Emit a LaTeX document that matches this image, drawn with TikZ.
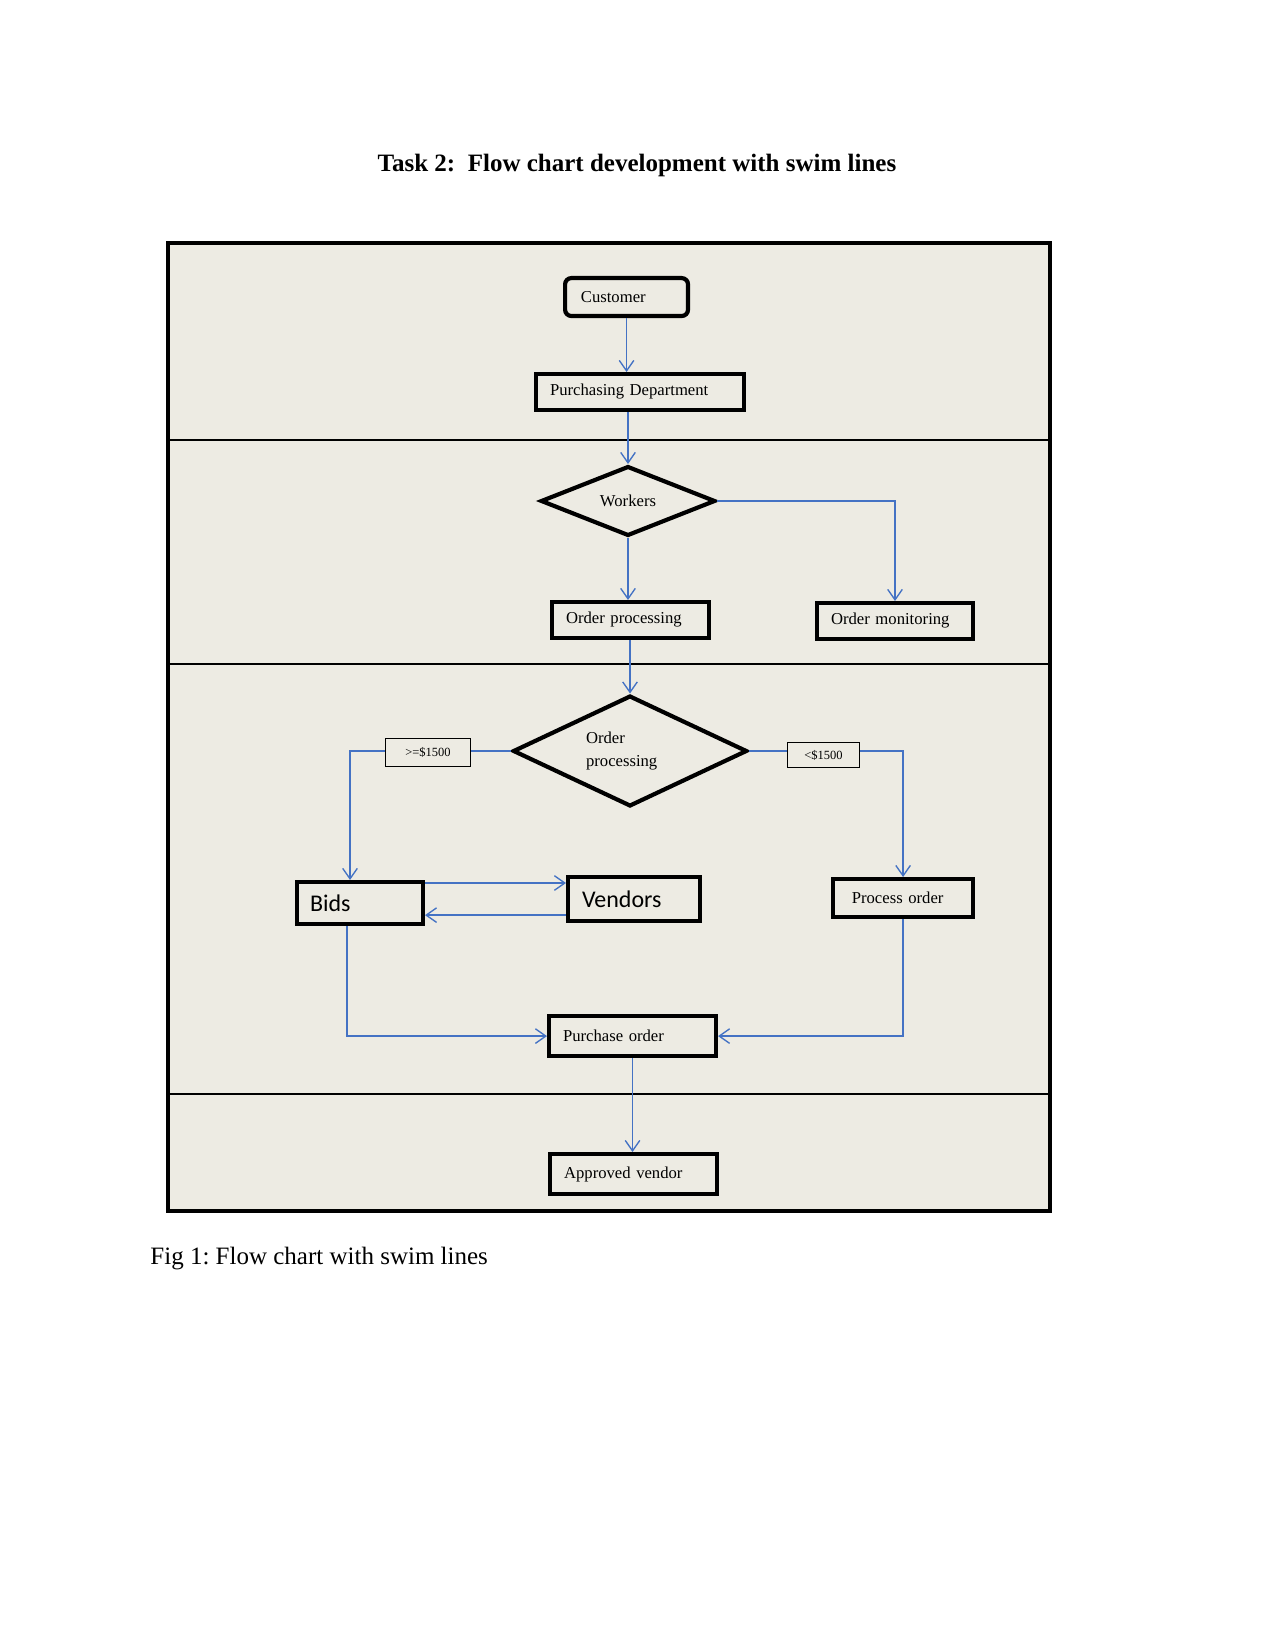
\documentclass[tikz,border=0pt]{standalone}
\usepackage{fontspec}
\setmainfont{Liberation Serif}
\newfontfamily\calib{Carlito}
\usetikzlibrary{arrows.meta,shapes.geometric,calc}
\definecolor{lanebg}{RGB}{237,235,227}
\definecolor{flow}{RGB}{68,114,196}
\frenchspacing
\begin{document}
\begin{tikzpicture}[x=0.48pt,y=-0.48pt,
  box/.style={draw,line width=2pt,fill=lanebg,align=left,inner ysep=0pt,inner xsep=6.7pt,
    font=\fontsize{8}{10}\selectfont,anchor=north west},
  dia/.style={draw,diamond,line width=2pt,fill=lanebg,inner sep=0pt,font=\fontsize{8}{11}\selectfont},
  lab/.style={draw,line width=0.5pt,fill=lanebg,inner sep=0pt,font=\fontsize{6}{7}\selectfont,anchor=north west},
  flowline/.style={draw=flow,line width=0.65pt,-{Straight Barb[length=5pt,width=7pt]}},
  plainflow/.style={draw=flow,line width=0.65pt},
  lane/.style={line width=0.8pt}]
\useasboundingbox (0,0) rectangle (1275,1650);

% title
\node[font=\bfseries\fontsize{12}{14}\selectfont] (title) at (637,165) {Task 2:\ \ Flow chart development with swim lines};

% frame and lanes
\fill[lanebg] (168,243) rectangle (1050,1211);
\draw[lane] (168,440) -- (1050,440);
\draw[lane] (168,664) -- (1050,664);
\draw[lane] (168,1094) -- (1050,1094);
\draw[line width=1.6pt] (168,243) rectangle (1050,1211);

% nodes
\node[box,rounded corners=3pt,inner xsep=7.6pt,minimum width=59pt,text width=43.8pt,minimum height=18.2pt] (cust) at (563,276) {Customer};
\node[box,minimum width=99.8pt,text width=86.4pt,minimum height=17.2pt] (pd) at (534,372) {Purchasing Department};
\node[dia,minimum width=83.8pt,minimum height=33.5pt,aspect=2.48] (d1) at (628,501) {Workers};
\node[box,minimum width=75.3pt,text width=61.9pt,minimum height=17.2pt] (op) at (550,600) {Order processing};
\node[box,minimum width=74.8pt,text width=61.4pt,minimum height=17.2pt] (om) at (815,601) {Order monitoring};
\node[dia,minimum width=112.4pt,minimum height=53.2pt,aspect=2.1,align=left] (d2) at (630,751) {Order\\processing\hspace*{8pt}};
\node[lab,minimum width=40.8pt,minimum height=13.4pt] (lab1) at (385,738) {>=\$1500};
\node[lab,minimum width=34.6pt,minimum height=12pt] (lab2) at (787,742) {<\$1500};
\node[box,font=\calib\fontsize{11.5}{13}\selectfont,inner xsep=6.2pt,minimum width=60.4pt,text width=48pt,minimum height=20.1pt] (bids) at (295,880) {Bids};
\node[box,font=\calib\fontsize{11.5}{13}\selectfont,minimum width=63.3pt,text width=49.9pt,minimum height=21.1pt] (vend) at (566,875) {Vendors};
\node[box,inner xsep=9pt,minimum width=67.2pt,text width=49.2pt,minimum height=18.2pt] (proc) at (831,877) {Process order};
\node[box,minimum width=80.1pt,text width=66.7pt,minimum height=19.2pt] (pur) at (547,1014) {Purchase order};
\node[box,minimum width=80.1pt,text width=66.7pt,minimum height=19.2pt] (appr) at (548,1152) {Approved vendor};

% connectors
\draw[flowline] (cust.south) -- (cust.south |- pd.north);
\draw[flowline] (d1.north |- pd.south) -- (d1.north);
\draw[flowline] (d1.south) -- (d1.south |- op.north);
\draw[flowline] (d1.east) -| (om.north);
\draw[flowline] (op.south -| d2.north) -- (d2.north);
\draw[plainflow] (d2.west) -- (d2.west -| lab1.east);
\coordinate (bidsin) at ($(bids.north)+(-10,0)$);
\draw[flowline] (d2.west -| lab1.west) -| (bidsin);
\draw[plainflow] (d2.east) -- (d2.east -| lab2.west);
\draw[flowline] (d2.east -| lab2.east) -| (proc.north);
\coordinate (bv) at ($(bids.north east)+(0,3)$);
\draw[flowline] (bv) -- (bv -| vend.west);
\coordinate (vb) at ($(vend.south west)+(0,-8)$);
\draw[flowline] (vb) -- (vb -| bids.east);
\coordinate (bd) at ($(bids.south)+(-13,0)$);
\draw[flowline] (bd) |- (pur.west);
\draw[flowline] (proc.south) |- (pur.east);
\draw[flowline] (pur.south) -- (pur.south |- appr.north);

% caption
\node[anchor=west,inner sep=0pt,font=\fontsize{12}{14}\selectfont] (cap) at (150,1259) {Fig 1: Flow chart with swim lines};
\end{tikzpicture}
\end{document}
